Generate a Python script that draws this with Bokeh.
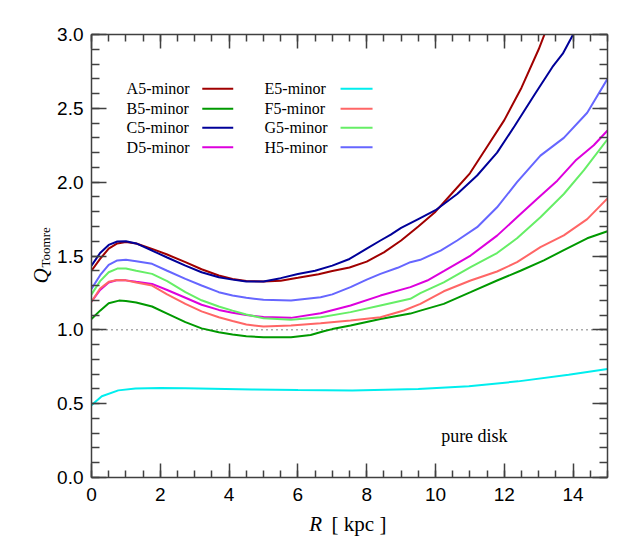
import math
from bokeh.plotting import figure
from bokeh.layouts import row, column
from bokeh.models import (Range1d, LinearAxis, SingleIntervalTicker, PrintfTickFormatter,
                          Label, ColumnDataSource, CustomLabelingPolicy)
from bokeh.core.properties import value
from bokeh.embed import file_html
from bokeh.resources import INLINE

# ---------------- data ----------------
names = ["A5-minor", "B5-minor", "C5-minor", "D5-minor",
         "E5-minor", "F5-minor", "G5-minor", "H5-minor"]
colors = ["#a00000", "#009900", "#000099", "#dd00dd",
          "#00eeee", "#ff6666", "#66ee66", "#6666ff"]

A5_R = [0, 0.25, 0.5, 0.75, 1.0, 1.3, 1.76, 2.2, 2.73, 3.2, 3.7, 4.1, 4.5, 5.0, 5.5, 6.0, 6.6,
        7.0, 7.5, 8.0, 8.5, 9.0, 9.5, 10.0, 10.5, 11.0, 11.5, 12.0, 12.5, 13.0, 13.3]
A5_Q = [1.40, 1.48, 1.55, 1.585, 1.595, 1.585, 1.548, 1.51, 1.458, 1.41, 1.368, 1.345, 1.33,
        1.327, 1.332, 1.352, 1.377, 1.398, 1.422, 1.462, 1.525, 1.605, 1.70, 1.80, 1.93, 2.06,
        2.24, 2.42, 2.64, 2.90, 3.08]

B5_R = [0, 0.25, 0.5, 0.8, 1.0, 1.3, 1.76, 2.2, 2.73, 3.2, 3.7, 4.1, 4.5, 5.0, 5.8, 6.37, 6.75,
        7.0, 7.53, 8.4, 9.27, 9.56, 10.24, 11.02, 11.79, 12.47, 13.15, 13.73, 14.41, 15.0]
B5_Q = [1.074, 1.13, 1.18, 1.198, 1.195, 1.185, 1.158, 1.11, 1.052, 1.01, 0.984, 0.968, 0.957,
        0.95, 0.95, 0.965, 0.99, 1.005, 1.029, 1.074, 1.11, 1.13, 1.176, 1.255, 1.334, 1.40,
        1.47, 1.54, 1.62, 1.668]

C5_R = [0, 0.25, 0.5, 0.75, 1.0, 1.3, 1.76, 2.2, 2.73, 3.2, 3.7, 4.1, 4.5, 5.0, 5.5, 6.0, 6.5,
        7.0, 7.5, 8.0, 8.4, 8.7, 9.0, 9.5, 10.0, 10.63, 11.21, 11.79, 12.3, 12.9, 13.4, 13.7,
        14.0, 14.2]
C5_Q = [1.435, 1.52, 1.575, 1.598, 1.60, 1.585, 1.537, 1.49, 1.435, 1.39, 1.356, 1.34, 1.327,
        1.328, 1.35, 1.378, 1.40, 1.435, 1.48, 1.55, 1.605, 1.645, 1.69, 1.75, 1.81, 1.92,
        2.045, 2.20, 2.38, 2.60, 2.78, 2.87, 3.0, 3.06]

D5_R = [0, 0.25, 0.5, 0.75, 1.0, 1.3, 1.76, 2.2, 2.73, 3.2, 3.7, 4.1, 4.5, 5.0, 5.8, 6.66,
        7.53, 8.4, 9.27, 9.76, 10.24, 11.02, 11.79, 12.37, 12.95, 13.54, 14.07, 14.6, 15.0]
D5_Q = [1.19, 1.27, 1.32, 1.338, 1.335, 1.325, 1.311, 1.27, 1.217, 1.17, 1.135, 1.115, 1.10,
        1.087, 1.081, 1.112, 1.165, 1.232, 1.289, 1.334, 1.397, 1.503, 1.638, 1.762, 1.886,
        2.01, 2.146, 2.25, 2.35]

E5_R = [0, 0.3, 0.78, 1.28, 2.0, 2.73, 4.67, 6.0, 7.58, 9.5, 10.97, 12.4, 13.87, 15.0]
E5_Q = [0.49, 0.55, 0.59, 0.603, 0.606, 0.605, 0.596, 0.592, 0.59, 0.60, 0.618, 0.651, 0.696,
        0.735]

F5_R = [0, 0.25, 0.5, 0.75, 1.0, 1.3, 1.76, 2.2, 2.73, 3.2, 3.7, 4.1, 4.5, 5.0, 5.8, 6.66,
        7.53, 8.4, 9.08, 9.56, 10.24, 11.02, 11.79, 12.37, 13.05, 13.73, 14.41, 15.0]
F5_Q = [1.19, 1.28, 1.325, 1.338, 1.335, 1.32, 1.30, 1.24, 1.176, 1.125, 1.085, 1.06, 1.036,
        1.022, 1.029, 1.045, 1.063, 1.085, 1.131, 1.176, 1.261, 1.334, 1.395, 1.458, 1.56,
        1.64, 1.75, 1.89]

G5_R = [0, 0.25, 0.5, 0.75, 1.0, 1.3, 1.76, 2.2, 2.73, 3.2, 3.7, 4.1, 4.5, 5.0, 5.8, 6.66,
        7.53, 8.4, 9.27, 9.56, 10.24, 11.02, 11.79, 12.37, 13.05, 13.73, 14.31, 15.0]
G5_Q = [1.24, 1.33, 1.39, 1.415, 1.415, 1.40, 1.379, 1.33, 1.255, 1.20, 1.158, 1.13, 1.104,
        1.078, 1.068, 1.085, 1.12, 1.165, 1.21, 1.248, 1.322, 1.424, 1.52, 1.62, 1.762, 1.92,
        2.08, 2.29]

H5_R = [0, 0.25, 0.5, 0.75, 1.0, 1.3, 1.76, 2.2, 2.73, 3.2, 3.7, 4.1, 4.5, 5.0, 5.8, 6.66,
        7.0, 7.53, 8.0, 8.4, 8.9, 9.27, 9.56, 10.15, 10.63, 11.21, 11.79, 12.37, 13.05, 13.73,
        14.41, 15.0]
H5_Q = [1.277, 1.37, 1.44, 1.47, 1.474, 1.465, 1.447, 1.40, 1.345, 1.30, 1.255, 1.232, 1.217,
        1.203, 1.198, 1.221, 1.24, 1.289, 1.34, 1.379, 1.42, 1.458, 1.474, 1.537, 1.605, 1.695,
        1.83, 2.0, 2.18, 2.30, 2.47, 2.70]

series_R = [A5_R, B5_R, C5_R, D5_R, E5_R, F5_R, G5_R, H5_R]
series_Q = [A5_Q, B5_Q, C5_Q, D5_Q, E5_Q, F5_Q, G5_Q, H5_Q]

x_ticks_interval = 2
y_ticks_interval = 0.5
q_ref = 1.0
annotation_text = "pure disk"
x_title_var = "R"
x_title_unit = "[ kpc ]"
y_title_var = "Q"
y_title_sub = "Toomre"

# ---------------- layout constants ----------------
AX = "#404040"
LEFT_W = 54          # width of left strip holding the y title
MAIN_W = 567
MAIN_H = 512
BOT_H = 30
B_LEFT, B_RIGHT, B_TOP, B_BOT = 37, 14, 34, 35
FRAME_H = MAIN_H - B_TOP - B_BOT

x_range = Range1d(0, 15)
y_range = Range1d(0, 3)

p = figure(width=MAIN_W, height=MAIN_H, output_backend="svg", toolbar_location=None,
           x_range=x_range, y_range=y_range, x_axis_type=None, y_axis_type=None,
           min_border_left=B_LEFT, min_border_right=B_RIGHT,
           min_border_top=B_TOP, min_border_bottom=B_BOT)
p.outline_line_color = None
p.background_fill_color = "white"
p.border_fill_color = "white"

hide_policy = CustomLabelingPolicy(code="""
const n = indices.size
for (let i = 0; i < n; i++) { indices.unset(i) }
return indices
""")


def make_axis(kind, labels):
    ax = LinearAxis()
    if kind == "x":
        ax.ticker = SingleIntervalTicker(interval=x_ticks_interval, num_minor_ticks=4)
        ax.formatter = PrintfTickFormatter(format="%d")
        ax.major_tick_in = 14
        ax.minor_tick_in = 7
        std = 10
    else:
        ax.ticker = SingleIntervalTicker(interval=y_ticks_interval, num_minor_ticks=5)
        ax.formatter = PrintfTickFormatter(format="%.1f")
        ax.major_tick_in = 15
        ax.minor_tick_in = 8
        std = 8
    ax.major_tick_out = 0
    ax.minor_tick_out = 0
    ax.axis_line_color = AX
    ax.axis_line_width = 1.5
    ax.major_tick_line_color = AX
    ax.major_tick_line_width = 1.5
    ax.minor_tick_line_color = AX
    ax.minor_tick_line_width = 1.5
    ax.major_label_text_font = "Liberation Sans"
    ax.major_label_text_color = "black"
    if labels:
        ax.major_label_text_font_size = "19px"
        ax.major_label_standoff = std
    else:
        ax.major_label_text_font_size = "1px"
        ax.major_label_policy = hide_policy
        ax.major_label_standoff = 0
    return ax


p.add_layout(make_axis("x", True), "below")
p.add_layout(make_axis("x", False), "above")
p.add_layout(make_axis("y", True), "left")
p.add_layout(make_axis("y", False), "right")

# reference line Q=1
p.line([x_range.start, x_range.end], [q_ref, q_ref], line_color="black", line_width=1,
       line_dash="1 4")

for R, Q, c in zip(series_R, series_Q, colors):
    p.line(R, Q, line_color=c, line_width=2)

# legend (label to the left of the sample line)
leg_rows = [2.632, 2.497, 2.369, 2.237]
leg_text_x = [1.02, 5.03]
leg_line_x = [(3.22, 4.12), (7.24, 8.17)]
lx, ly, lt, sx0, sx1, sy, sc = [], [], [], [], [], [], []
for i, (n, c) in enumerate(zip(names, colors)):
    col, rw = divmod(i, 4)
    lx.append(leg_text_x[col]); ly.append(leg_rows[rw]); lt.append(n)
    sx0.append(leg_line_x[col][0]); sx1.append(leg_line_x[col][1]); sy.append(leg_rows[rw]); sc.append(c)
p.text(x="x", y="y", text="t", source=ColumnDataSource(dict(x=lx, y=ly, t=lt)),
       text_font=value("Liberation Serif"), text_font_size=value("16px"),
       text_baseline="middle", text_align="left", text_color="black")
p.segment(x0="x0", y0="y", x1="x1", y1="y", color="c", line_width=2,
          source=ColumnDataSource(dict(x0=sx0, x1=sx1, y=sy, c=sc)))

p.add_layout(Label(x=11.13, y=0.284, text=annotation_text, text_font="Liberation Serif",
                   text_font_size="18px", text_align="center", text_baseline="middle",
                   text_color="black"))

# ---------------- bottom strip: x title ----------------
pb = figure(width=MAIN_W, height=BOT_H, output_backend="svg", toolbar_location=None,
            x_range=x_range, y_range=Range1d(0, BOT_H), x_axis_type=None, y_axis_type=None,
            min_border_left=B_LEFT, min_border_right=B_RIGHT, min_border_top=0,
            min_border_bottom=0)
pb.outline_line_color = None
pb.background_fill_color = "white"
pb.border_fill_color = "white"
pb.add_layout(Label(x=6.33, y=19, text=x_title_var, text_font="Liberation Serif",
                    text_font_style="italic", text_font_size="21px", text_align="left",
                    text_baseline="alphabetic", text_color="black"))
pb.add_layout(Label(x=6.98, y=19, text=x_title_unit, text_font="Liberation Serif",
                    text_font_size="21px", text_align="left",
                    text_baseline="alphabetic", text_color="black"))

# ---------------- left strip: y title ----------------
pl = figure(width=LEFT_W, height=MAIN_H + BOT_H, output_backend="svg", toolbar_location=None,
            x_range=Range1d(0, LEFT_W), y_range=y_range, x_axis_type=None, y_axis_type=None,
            min_border_left=0, min_border_right=0, min_border_top=B_TOP,
            min_border_bottom=MAIN_H + BOT_H - B_TOP - FRAME_H)
pl.outline_line_color = None
pl.background_fill_color = "white"
pl.border_fill_color = "white"
pl.add_layout(Label(x=40, y=1.313, text=y_title_var, text_font="Liberation Serif",
                    text_font_style="italic", text_font_size="21px", text_align="left",
                    text_baseline="alphabetic", angle=math.pi / 2, text_color="black"))
pl.add_layout(Label(x=45, y=1.422, text=y_title_sub, text_font="Liberation Serif",
                    text_font_size="13px", text_align="left",
                    text_baseline="alphabetic", angle=math.pi / 2, text_color="black"))

layout = row(pl, column(p, pb, spacing=0), spacing=0)
open("out.html", "w").write(file_html(layout, INLINE))
